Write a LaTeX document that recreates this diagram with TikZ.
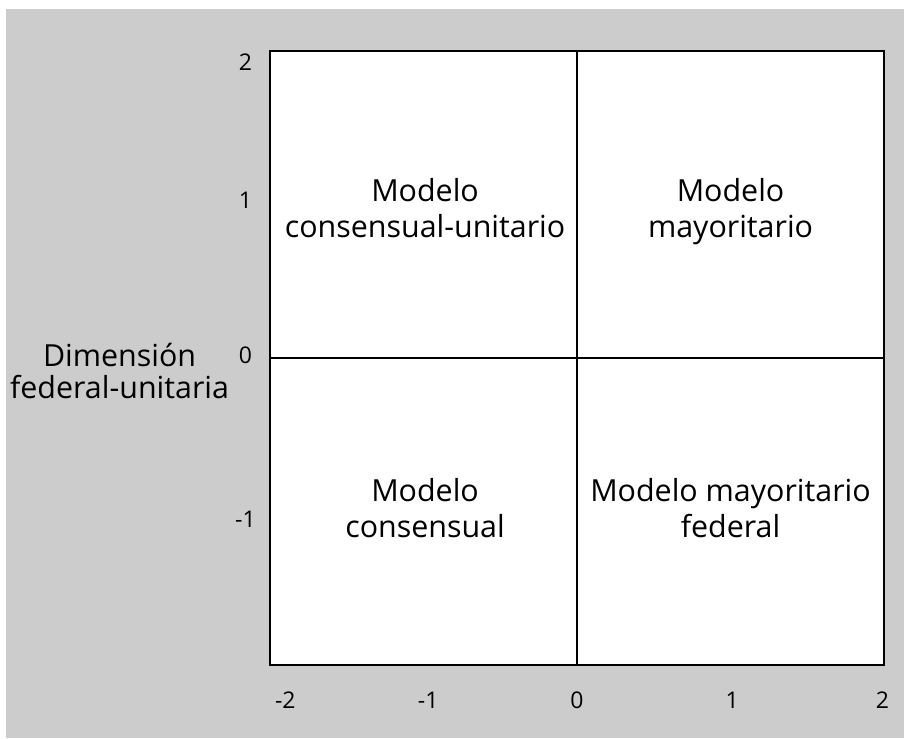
\documentclass[tikz,border=0pt]{standalone}
\usepackage{fontspec}
\setmainfont{Open Sans}
\definecolor{fondo}{HTML}{CCCCCC}

\begin{document}
\begin{tikzpicture}[x=76.75pt,y=76.75pt,
        modelo/.style={align=center,anchor=north,inner sep=0pt,font=\fontsize{15.2}{18}\selectfont},
        escala/.style={font=\fontsize{11.5}{13}\selectfont}]
        \useasboundingbox (-3.759,-2.476) rectangle (2.130,2.332);
        \fill[fondo] (-3.72,-2.476) rectangle (2.130,2.274);
        % cuadro y ejes
        \draw[line width=1pt,fill=white] (-2,-2) coordinate (sw) rectangle (2,2) coordinate (ne);
        \coordinate (n) at (0,2);
        \coordinate (s) at (0,-2);
        \coordinate (w) at (-2,0);
        \coordinate (e) at (2,0);
        \draw[line width=0.8pt] (n) -- (s);
        \draw[line width=0.8pt] (w) -- (e);
        % escalas
        \foreach \x/\p in {-2/-1.90,-1/-0.97,0/0,1/1.01,2/1.99}
            \node[escala] (x\x) at (\p,-2.23) {\x};
        \foreach \y/\p in {2/1.93,1/1.03,0/0.02,-1/-1.05}
            \node[escala] (y\y) at (-2.16,\p) {\y};
        % modelos
        \node[modelo] (cu) at (-0.99,1.175) {Modelo\\consensual-unitario};
        \node[modelo] (ma) at (1.00,1.175) {Modelo\\mayoritario};
        \node[modelo] (co) at (-0.99,-0.78) {Modelo\\consensual};
        \node[modelo] (mf) at (1.00,-0.78) {Modelo mayoritario\\federal};
        \node[modelo,font=\fontsize{15.2}{16}\selectfont] (dim) at (-2.98,0.1) {Dimensión\\federal-unitaria};
    \end{tikzpicture}
\end{document}
